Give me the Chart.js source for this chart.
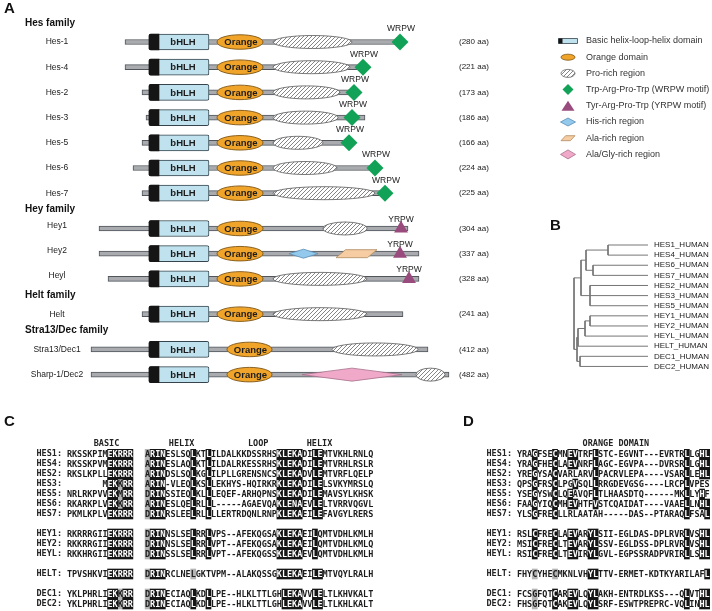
<!DOCTYPE html>
<html>
<head>
<meta charset="utf-8">
<script src="https://cdn.jsdelivr.net/npm/chart.js@4.4.1/dist/chart.umd.min.js"></script>
<style>
  html, body { margin: 0; padding: 0; background: #fff; }
  #fig { position: relative; width: 712px; height: 611px; overflow: hidden; }
  .panel { position: absolute; }
</style>
</head>
<body>
<div id="fig">
  <div class="panel" style="left:0;top:0;width:712px;height:395px"><canvas id="chartA"></canvas></div>
  <div class="panel" style="left:545px;top:215px;width:167px;height:160px"><canvas id="chartB"></canvas></div>
  <div class="panel" style="left:0;top:415px;width:430px;height:196px"><canvas id="chartC"></canvas></div>
  <div class="panel" style="left:430px;top:415px;width:282px;height:196px"><canvas id="chartD"></canvas></div>
</div>
<script>
// ---------- panel A: domain structure ----------
const proteins = ["Hes-1", "Hes-4", "Hes-2", "Hes-3", "Hes-5", "Hes-6", "Hes-7",
  "Hey1", "Hey2", "Heyl", "Helt", "Stra13/Dec1", "Sharp-1/Dec2"];
const familyNames = ["Hes family", "Hey family", "Helt family", "Stra13/Dec family"];
const familyOf = [0, 0, 0, 0, 0, 0, 0, 1, 1, 1, 2, 3, 3];
const lengthAA = [280, 221, 173, 186, 166, 224, 225, 304, 337, 328, 241, 412, 482];

// schematic positions, every protein aligned on the start of its bHLH
const backbone = [[-24, 251], [-24, 214], [-7, 205], [-3, 216], [-7, 200], [-16, 226], [-7, 236],
  [-50, 259], [-50, 270], [-41, 270], [-7, 254], [-58, 279], [-58, 300]];
const bhlhDomain = [0, 60];
const basicRegion = [0, 10];
const orangeDomain = [[68, 114], [68, 114], [68, 114], [68, 114], [68, 114], [68, 114], [68, 114],
  [68, 114], [68, 114], [68, 114], [68, 114], [78, 123], [78, 123]];
const proRich = [[124, 203], [124, 201], [124, 191], [124, 189], [124, 174], [124, 188], [124, 226],
  [174, 218], null, [124, 218], [124, 218], [183, 269], [267, 296]];
const hisRich = [null, null, null, null, null, null, null, null, [140, 169], null, null, null, null];
const alaRich = [null, null, null, null, null, null, null, null, [187, 228], null, null, null, null];
const alaGlyRich = [null, null, null, null, null, null, null, null, null, null, null, null, [153, 253]];
const wrpw = [251, 214, 205, 203, 200, 226, 236, null, null, null, null, null, null];
const yrpw = [null, null, null, null, null, null, null, 252, 251, 260, null, null, null];

const legendLabels = ["Basic helix-loop-helix domain", "Orange domain", "Pro-rich region",
  "Trp-Arg-Pro-Trp (WRPW motif)", "Tyr-Arg-Pro-Trp (YRPW motif)", "His-rich region",
  "Ala-rich region", "Ala/Gly-rich region"];

// ---------- panel B: tree ----------
const treeLeaves = ["HES1_HUMAN", "HES4_HUMAN", "HES6_HUMAN", "HES7_HUMAN", "HES2_HUMAN", "HES3_HUMAN",
  "HES5_HUMAN", "HEY1_HUMAN", "HEY2_HUMAN", "HEYL_HUMAN", "HELT_HUMAN", "DEC1_HUMAN", "DEC2_HUMAN"];
// node depth from the root (tree units), leaves all end at leafDepth
const treeRoot = { d: 0, kids: [
  { d: 7, kids: [
    { d: 12, kids: [{ d: 34, kids: ["HES1_HUMAN", "HES4_HUMAN"] }, { d: 19, kids: ["HES6_HUMAN", "HES7_HUMAN"] }] },
    { d: 16, kids: ["HES2_HUMAN", "HES3_HUMAN", "HES5_HUMAN"] }] },
  { d: 3, kids: [
    { d: 4, kids: [{ d: 11, kids: [{ d: 16, kids: ["HEY1_HUMAN", "HEY2_HUMAN"] }, "HEYL_HUMAN"] }, "HELT_HUMAN"] },
    { d: 6, kids: ["DEC1_HUMAN", "DEC2_HUMAN"] }] }] };
const leafDepth = 74;

// ---------- panels C, D: alignments ----------
const alignNames = ["HES1", "HES4", "HES2", "HES3", "HES5", "HES6", "HES7", "HEY1", "HEY2", "HEYL", "HELT", "DEC1", "DEC2"];
const basicSeq = ["RKSSKPIMEKRRR", "RKSSKPVMEKRRR", "RKSLKPLLEKRRR", "       MEKKRR", "NRLRKPVVEKMRR",
  "RKARKPLVEKKRR", "PKMLKPLVEKRRR", "RKRRRGIIEKRRR", "RKKRRGIIEKRRR", "RKKHRGIIEKRRR",
  "TPVSHKVIEKRRR", "YKLPHRLIEKKRR", "YKLPHRLIEKKRR"];
const basicMask = ["........#####", "........#####", "........#####", "........##+##", "........##+##",
  "........##+##", "........#####", "........#####", "........#####", "........#####",
  "........#####", "........##+##", "........##+##"];
const helixSeq = [
  "ARINESLSQLKTLILDALKKDSSRHSKLEKADILEMTVKHLRNLQ",
  "ARINESLAQLKTLILDALRKESSRHSKLEKADILEMTVRHLRSLR",
  "ARINDSLSQLKGLILPLLGRENSNCSKLEKADVLEMTVRFLQELP",
  "ARIN-VLEQLKSLLEKHYS-HQIRKRKLEKADILELSVKYMRSLQ",
  "DRINSSIEQLKLLLEQEF-ARHQPNSKLEKADILEMAVSYLKHSK",
  "ARINESLQELRLLL-----AGAEVQAKLENAEVLELTVRRVQGVL",
  "DRINRSLEELRLLLLERTRDQNLRNPKLEKAEILEFAVGYLRERS",
  "DRINNSLSELRRLVPS--AFEKQGSAKLEKAEILQMTVDHLKMLH",
  "DRINNSLSELRRLVPT--AFEKQGSAKLEKAEILQMTVDHLKMLQ",
  "DRINSSLSELRRLVPT--AFEKQGSSKLEKAEVLQMTVDHLKMLH",
  "DRINRCLNELGKTVPM--ALAKQSSGKLEKAEILEMTVQYLRALH",
  "DRINECIAQLKDLLPE--HLKLTTLGHLEKAVVLELTLKHVKALT",
  "DRINECIAQLKDLLPE--HLKLTTLGHLEKAVVLELTLKHLKALT"];
const helixMask = [
  "+###.....#..#.............#####..##..........",
  "+###.....#..#.............#####..##..........",
  "+###.....#..#.............#####..##..........",
  "+###.....#..#.............#####..##..........",
  "+###.....#..#.............#####..##..........",
  "+###.....#..#.............#####..##..........",
  "+###.....#..#.............#####..##..........",
  "+###.....#..#.............#####..#...........",
  "+###.....#..#.............#####..#...........",
  "+###.....#..#.............#####..#...........",
  "+###.....+................#####..##..........",
  "+###.....#..#..............####..##..........",
  "+###.....#..#..............####..##.........."];
const orangeSeq = [
  "YRAGFSECMNEVTRFLSTC-EGVNT---EVRTRLLGHL",
  "YRAGFHECLAEVNRFLAGC-EGVPA---DVRSRLLGHL",
  "YREGYSACVARLARVLPACRVLEPA----VSARLLEHL",
  "QPSGFRSCLPGVSQLLRRGDEVGSG----LRCPLVPES",
  "YSEGYSWCLQEAVQFLTLHAASDTQ------MKLLYHF",
  "FAAGYIQCMHEVHTFVSTCQAIDAT----VAAELLNHL",
  "YLSGFRECLLRLAATAH-----DAS--PTARAQLFSAL",
  "RSLCFRECLAEVARYLSII-EGLDAS-DPLRVRLVSHL",
  "MSICFRECLTEVARYLSSV-EGLDSS-DPLRVRLVSHL",
  "RSICFRECLTEVIRYLGVL-EGPSSRADPVRIRLLSHL",
  "FHYCYHECMKNLVHYLTTV-ERMET-KDTKYARILAFL",
  "FCSGFQTCAREVLQYLAKH-ENTRDLKSS---QLVTHL",
  "FHSGFQTCAKEVLQYLSRF-ESWTPREPRC-VQLINHL"];
const orangeMask = [
  "...#...#..##...#.................#..##",
  "...#...#..##...#.................#..##",
  "...#...#.......#.................#..##",
  "...#...#...#...#.................#....",
  "...#...#..#....#.................#..#.",
  "...#...#..##...#.................#..##",
  "...#...#.........................#...#",
  "...#...#..##..##.................#..##",
  "...#...#..##..##.................#..##",
  "...#...#..##..##.................#..##",
  "...+...+......##.....................#",
  "...+...#..##..##.................#..##",
  "...+...#..##..##.................#..##"];
const headersC = ["BASIC", "HELIX", "LOOP", "HELIX"];
const headerColsC = [7.3, 22.1, 37.2, 49.3];
const headersD = ["ORANGE DOMAIN"];
const headerColsD = [19];

// ---------- styles ----------
const SANS = '"Liberation Sans", Arial, sans-serif';
const MONO = '"DejaVu Sans Mono", monospace';
Chart.defaults.font.family = SANS;
Chart.defaults.color = '#222';

const ROW_PX = 25.2;       // vertical distance between two proteins in A
const FAMILY_GAP = 0.4;    // extra space before a new family, in rows
const rowY = [];
familyOf.forEach((f, i) => {
  rowY.push(i ? rowY[i - 1] + 1 + (f !== familyOf[i - 1] ? FAMILY_GAP : 0) : 0);
});
const alignSlot = familyOf.map((f, i) => i + f); // blank line between families

const GREEN = '#12a257', PURPLE = '#9a4b7e', BLUE = '#bfe2ee', ORANGE = '#f1a42a';
const HIS = '#92c9ec', ALA = '#f6cda2', PINK = '#f0a9c9';
const noPad = { padding: 0, autoPadding: false };

function makeHatch() {
  const t = document.createElement('canvas');
  t.width = 4; t.height = 4;
  const g = t.getContext('2d');
  g.fillStyle = '#fff';
  g.fillRect(0, 0, 4, 4);
  g.strokeStyle = '#858585';
  g.lineWidth = 1;
  g.beginPath();
  g.moveTo(0, 4); g.lineTo(4, 0);
  g.moveTo(-1, 1); g.lineTo(1, -1);
  g.moveTo(3, 5); g.lineTo(5, 3);
  g.stroke();
  return g.createPattern(t, 'repeat');
}
const HATCH = makeHatch();

function drawShape(ctx, shape, cx, cy, w, h, fill, stroke, lw) {
  const hw = w / 2, hh = h / 2;
  ctx.save();
  ctx.beginPath();
  if (shape === 'ellipse') {
    ctx.ellipse(cx, cy, hw, hh, 0, 0, Math.PI * 2);
  } else if (shape === 'diamond') {
    ctx.moveTo(cx - hw, cy); ctx.lineTo(cx, cy - hh); ctx.lineTo(cx + hw, cy); ctx.lineTo(cx, cy + hh);
    ctx.closePath();
  } else if (shape === 'parallelogram') {
    const k = Math.min(h * 1.2, w / 3);
    ctx.moveTo(cx - hw, cy + hh); ctx.lineTo(cx - hw + k, cy - hh); ctx.lineTo(cx + hw, cy - hh); ctx.lineTo(cx + hw - k, cy + hh);
    ctx.closePath();
  } else if (shape === 'triangle') {
    ctx.moveTo(cx, cy - hh); ctx.lineTo(cx + hw, cy + hh); ctx.lineTo(cx - hw, cy + hh);
    ctx.closePath();
  } else {
    ctx.rect(cx - hw, cy - hh, w, h);
  }
  ctx.fillStyle = fill;
  ctx.fill();
  if (lw) { ctx.lineWidth = lw; ctx.strokeStyle = stroke; ctx.stroke(); }
  ctx.restore();
}

const span = list => list.map((s, i) => s && { x: s, y: rowY[i] }).filter(Boolean);
const pointsAt = list => list.map((v, i) => v == null ? null : { x: v, y: rowY[i] }).filter(Boolean);
const barBase = { type: 'bar', indexAxis: 'y', grouped: false, borderSkipped: false };

// bars with shape: drawn as ellipse / diamond / parallelogram from the bar element geometry
const shapeBars = {
  id: 'shapeBars',
  beforeDatasetDraw(chart, args) {
    const ds = chart.data.datasets[args.index];
    if (!ds.shape) return;
    args.meta.data.forEach(el => {
      const { x, y, base, height } = el.getProps(['x', 'y', 'base', 'height'], true);
      drawShape(chart.ctx, ds.shape, (x + base) / 2, y, Math.abs(x - base), height,
        ds.backgroundColor, ds.borderColor, ds.borderWidth);
    });
    return false;
  }
};

const legendSymbols = [
  (c, x, y) => { drawShape(c, 'rect', x, y, 19, 5, BLUE, '#36454d', 0.8); drawShape(c, 'rect', x - 7.5, y, 4, 5, '#151515'); },
  (c, x, y) => drawShape(c, 'ellipse', x, y, 14, 6, ORANGE, '#7d5514', 0.8),
  (c, x, y) => drawShape(c, 'ellipse', x, y, 14, 8, HATCH, '#666', 0.8),
  (c, x, y) => drawShape(c, 'diamond', x, y, 11, 11, GREEN),
  (c, x, y) => drawShape(c, 'triangle', x, y, 13, 10, PURPLE),
  (c, x, y) => drawShape(c, 'diamond', x, y, 15, 8, HIS, '#5b8db4', 0.8),
  (c, x, y) => drawShape(c, 'parallelogram', x, y, 14, 5, ALA, '#b08a60', 0.8),
  (c, x, y) => drawShape(c, 'diamond', x, y, 15, 9, PINK, '#a7708c', 0.8)
];

const panelAText = {
  id: 'panelAText',
  afterDatasetsDraw(chart) {
    const { ctx, scales: { y } } = chart;
    const metaOf = role => chart.getDatasetMeta(chart.data.datasets.findIndex(d => d.role === role));
    ctx.save();
    ctx.textBaseline = 'middle';
    ctx.fillStyle = '#111';
    ctx.textAlign = 'left';
    ctx.font = `bold 15px ${SANS}`;
    ctx.fillText('A', 4, 9);

    ctx.font = `bold 10px ${SANS}`;
    familyNames.forEach((name, f) => {
      ctx.fillText(name, 25, y.getPixelForValue(rowY[familyOf.indexOf(f)] - 0.75));
    });

    ctx.fillStyle = '#222';
    proteins.forEach((p, i) => {
      const py = y.getPixelForValue(rowY[i]);
      ctx.font = `8.5px ${SANS}`;
      ctx.textAlign = 'center';
      // Hey-family names sit a little above their bar in the original
      ctx.fillText(p, 57, familyOf[i] === 1 ? py - 3 : py);
      ctx.font = `8px ${SANS}`;
      ctx.textAlign = 'left';
      ctx.fillText(`(${lengthAA[i]} aa)`, 459, py);
    });

    ctx.textAlign = 'center';
    ctx.font = `bold 9.5px ${SANS}`;
    ctx.fillStyle = '#1c1c1c';
    metaOf('bhlh').data.forEach(el => ctx.fillText('bHLH', (el.x + el.base) / 2 + 4, el.y + 0.5));
    metaOf('orange').data.forEach(el => ctx.fillText('Orange', (el.x + el.base) / 2 + 1, el.y + 0.5));

    ctx.font = `8.5px ${SANS}`;
    ctx.fillStyle = '#222';
    metaOf('wrpw').data.forEach(el => ctx.fillText('WRPW', el.x + 1, el.y - 13));
    metaOf('yrpw').data.forEach(el => ctx.fillText('YRPW', el.x, el.y - 9));

    ctx.textAlign = 'left';
    ctx.font = `9px ${SANS}`;
    legendLabels.forEach((t, i) => {
      const ly = 41 + i * 16.2;
      legendSymbols[i](ctx, 568, ly);
      ctx.fillStyle = '#333';
      ctx.fillText(t, 586, ly);
    });
    ctx.restore();
  }
};

new Chart(document.getElementById('chartA'), {
  type: 'scatter',
  data: {
    datasets: [
      { type: 'scatter', role: 'wrpw', data: pointsAt(wrpw), pointStyle: 'rectRot', pointRadius: 8.5,
        backgroundColor: GREEN, pointBorderWidth: 0, order: 1 },
      { type: 'scatter', role: 'yrpw', data: pointsAt(yrpw), pointStyle: 'triangle', pointRadius: 8,
        backgroundColor: PURPLE, pointBorderWidth: 0, order: 1 },
      { ...barBase, role: 'orange', shape: 'ellipse', data: orangeDomain.map((s, i) => ({ x: s, y: rowY[i] })),
        barThickness: 14.5, backgroundColor: ORANGE, borderColor: '#7d5514', borderWidth: 0.9, order: 5 },
      { ...barBase, role: 'pro', shape: 'ellipse', data: span(proRich),
        barThickness: 13, backgroundColor: HATCH, borderColor: '#6a6a6a', borderWidth: 0.9, order: 5 },
      { ...barBase, role: 'his', shape: 'diamond', data: span(hisRich),
        barThickness: 9, backgroundColor: HIS, borderColor: '#5b8db4', borderWidth: 0.8, order: 5 },
      { ...barBase, role: 'ala', shape: 'parallelogram', data: span(alaRich),
        barThickness: 8, backgroundColor: ALA, borderColor: '#b08a60', borderWidth: 0.8, order: 5 },
      { ...barBase, role: 'alagly', shape: 'diamond', data: span(alaGlyRich),
        barThickness: 13, backgroundColor: PINK, borderColor: '#a7708c', borderWidth: 0.8, order: 5 },
      { ...barBase, role: 'basic', data: proteins.map((p, i) => ({ x: basicRegion, y: rowY[i] })),
        barThickness: 16, backgroundColor: '#151515', borderWidth: 0,
        borderRadius: { topLeft: 2, bottomLeft: 2, topRight: 0, bottomRight: 0 }, order: 7 },
      { ...barBase, role: 'bhlh', data: proteins.map((p, i) => ({ x: bhlhDomain, y: rowY[i] })),
        barThickness: 16, backgroundColor: BLUE, borderColor: '#36454d', borderWidth: 1, borderRadius: 2, order: 8 },
      { ...barBase, role: 'backbone', data: span(backbone),
        barThickness: 5, backgroundColor: '#a9abae', borderColor: '#4f555b', borderWidth: 1, order: 9 }
    ]
  },
  options: {
    responsive: true,
    maintainAspectRatio: false,
    animation: false,
    layout: noPad,
    plugins: { legend: { display: false }, tooltip: { enabled: false } },
    scales: {
      x: { type: 'linear', display: false, offset: false, min: -149, max: 563 },
      y: { type: 'linear', display: false, offset: false, reverse: true, min: -42 / ROW_PX, max: (395 - 42) / ROW_PX }
    }
  },
  plugins: [shapeBars, panelAText]
});

// ---------- chart B ----------
const treeSegs = [];
function place(node) {
  if (typeof node === 'string') return { y: treeLeaves.indexOf(node), d: leafDepth };
  const kids = node.kids.map(place);
  kids.forEach(k => treeSegs.push({ x: node.d, y: k.y }, { x: k.d, y: k.y }, { x: k.d, y: null }));
  const lo = Math.min(...kids.map(k => k.y)), hi = Math.max(...kids.map(k => k.y));
  treeSegs.push({ x: node.d, y: lo }, { x: node.d, y: hi }, { x: node.d, y: null });
  return { y: (lo + hi) / 2, d: node.d };
}
place(treeRoot);

const LEAF_PX = 10.12;
new Chart(document.getElementById('chartB'), {
  type: 'scatter',
  data: {
    datasets: [{ data: treeSegs, showLine: true, spanGaps: false, pointRadius: 0,
      borderColor: '#767676', borderWidth: 1 }]
  },
  options: {
    responsive: true,
    maintainAspectRatio: false,
    animation: false,
    layout: noPad,
    plugins: { legend: { display: false }, tooltip: { enabled: false } },
    scales: {
      x: { type: 'linear', display: false, offset: false, min: -29, max: leafDepth },
      y: {
        type: 'linear', position: 'right', reverse: true, offset: false,
        min: -30 / LEAF_PX, max: (160 - 30) / LEAF_PX,
        grid: { display: false, drawTicks: false }, border: { display: false },
        afterBuildTicks: s => { s.ticks = treeLeaves.map((_, i) => ({ value: i })); },
        afterFit: s => { s.width = 64; s.paddingTop = 0; s.paddingBottom = 0; },
        ticks: { autoSkip: false, padding: 6, color: '#222', font: { size: 8, family: SANS },
          callback: v => treeLeaves[v] }
      }
    }
  },
  plugins: [{
    id: 'letterB',
    afterDraw(chart) {
      const ctx = chart.ctx;
      ctx.save();
      ctx.font = `bold 15px ${SANS}`;
      ctx.fillStyle = '#111';
      ctx.textBaseline = 'middle';
      ctx.fillText('B', 5, 11);
      ctx.restore();
    }
  }]
});

// ---------- charts C and D ----------
function alignmentChart(id, seqs, masks, colOf, headers, headerCols, axisWidth, areaWidth, letter, letterX) {
  const CHAR_PX = 5.07;
  const runs = sym => {
    const out = [];
    masks.forEach((m, r) => {
      let s = -1;
      for (let c = 0; c <= m.length; c++) {
        if (m[c] === sym) { if (s < 0) s = c; }
        else if (s >= 0) {
          out.push({ y: alignSlot[r], x: [colOf(s) - 0.5, colOf(c - 1) + 0.5] });
          s = -1;
        }
      }
    });
    return out;
  };
  const residues = {
    id: 'residues',
    afterDatasetsDraw(chart) {
      const { ctx, scales: { x, y } } = chart;
      ctx.save();
      ctx.font = `bold 8.5px ${MONO}`;
      ctx.textAlign = 'center';
      ctx.textBaseline = 'middle';
      seqs.forEach((s, r) => {
        const py = y.getPixelForValue(alignSlot[r]) + 0.5;
        [...s].forEach((ch, c) => {
          if (ch === ' ') return;
          ctx.fillStyle = masks[r][c] === '#' ? '#fff' : '#1c1c1c';
          ctx.fillText(ch, x.getPixelForValue(colOf(c)), py);
        });
      });
      ctx.font = `bold 15px ${SANS}`;
      ctx.textAlign = 'left';
      ctx.fillStyle = '#111';
      ctx.fillText(letter, letterX, 7);
      ctx.restore();
    }
  };
  return new Chart(document.getElementById(id), {
    type: 'scatter',
    data: {
      datasets: [
        { ...barBase, data: runs('#'), backgroundColor: '#151515', barThickness: 10, borderWidth: 0 },
        { ...barBase, data: runs('+'), backgroundColor: '#b4b4b4', barThickness: 10, borderWidth: 0 }
      ]
    },
    options: {
      responsive: true,
      maintainAspectRatio: false,
      animation: false,
      layout: noPad,
      plugins: { legend: { display: false }, tooltip: { enabled: false } },
      scales: {
        x: {
          type: 'linear', position: 'top', offset: false, min: -0.5, max: -0.5 + areaWidth / CHAR_PX,
          grid: { display: false, drawTicks: false }, border: { display: false },
          afterBuildTicks: s => { s.ticks = headerCols.map(v => ({ value: v })); },
          afterFit: s => { s.height = 34; s.paddingLeft = 0; s.paddingRight = 0; },
          ticks: { autoSkip: false, maxRotation: 0, padding: 0, color: '#222',
            font: { family: MONO, size: 8.5, weight: 'bold' },
            callback: (v, i) => headers[i] }
        },
        y: {
          type: 'linear', reverse: true, offset: false, min: -0.5, max: 15.7,
          grid: { display: false, drawTicks: false }, border: { display: false },
          afterBuildTicks: s => { s.ticks = alignSlot.map(v => ({ value: v })); },
          afterFit: s => { s.width = axisWidth; s.paddingTop = 0; s.paddingBottom = 0; },
          ticks: { autoSkip: false, padding: 5, color: '#222',
            font: { family: MONO, size: 8.5, weight: 'bold' },
            callback: v => alignNames[alignSlot.indexOf(v)] + ':' }
        }
      }
    },
    plugins: [residues]
  });
}

// C: basic block, a gap, then helix-loop-helix block
const seqC = basicSeq.map((b, i) => b + ' ' + helixSeq[i]);
const maskC = basicMask.map((b, i) => b + '.' + helixMask[i]);
alignmentChart('chartC', seqC, maskC, k => (k < 13 ? k : k + 1.4), headersC, headerColsC, 67, 363, 'C', 4);
alignmentChart('chartD', orangeSeq, orangeMask, k => k, headersD, headerColsD, 87, 195, 'D', 33);
</script>
</body>
</html>
